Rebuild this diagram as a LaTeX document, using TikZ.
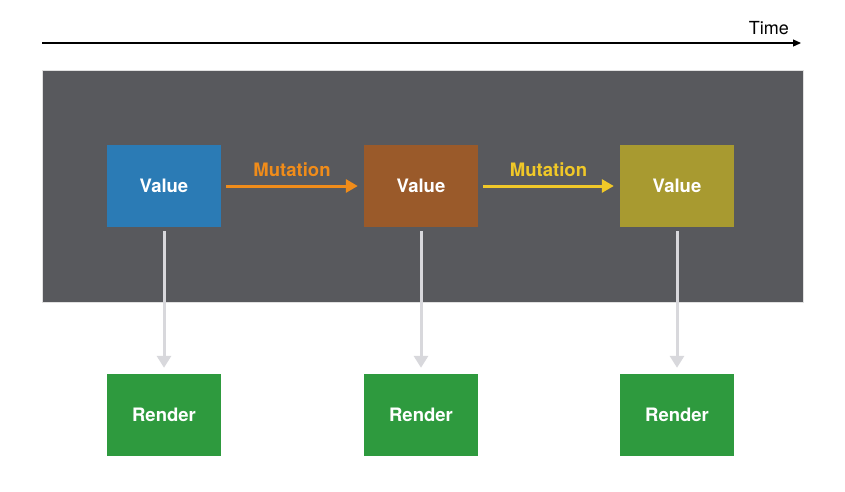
\documentclass[tikz,border=0pt]{standalone}
\usepackage{fontspec}
\setmainfont{TeX Gyre Heros}
\usetikzlibrary{arrows.meta}
\definecolor{panel}{HTML}{58595D}
\definecolor{vblue}{HTML}{2B7BB5}
\definecolor{vbrown}{HTML}{9A5A2A}
\definecolor{volive}{HTML}{A89A30}
\definecolor{rgreen}{HTML}{2E9A3E}
\definecolor{morange}{HTML}{F08C1A}
\definecolor{myellow}{HTML}{F0C828}
\definecolor{vline}{HTML}{D8D8DC}
\tikzset{
  box/.style={minimum width=114pt, minimum height=82pt, inner sep=0pt, text=white, font=\bfseries\fontsize{18.5}{22}\selectfont},
  mut/.style={line width=3pt, -{Triangle[length=12pt,width=13pt]}},
  mlabel/.style={font=\bfseries\fontsize{18.5}{22}\selectfont},
  down/.style={vline, line width=3pt, -{Triangle[length=12pt,width=14pt]}}
}
\begin{document}
\begin{tikzpicture}[x=1pt,y=-1pt]
\useasboundingbox (0,0) rectangle (845,491);
\fill[white] (0,0) rectangle (845,491);
% timeline
\coordinate (t0) at (42,43);
\coordinate (t1) at (801,43);
\draw[line width=1.2pt, -{Triangle[length=8pt,width=7pt]}] (t0) -- (t1);
\node[anchor=south east, font=\fontsize{18}{21}\selectfont, inner sep=0pt] (time) at (789,35) {Time};
% panel
\node[fill=panel, draw=black!12, minimum width=761pt, minimum height=232pt, inner sep=0pt, anchor=north west] (panel) at (42,70) {};
% value boxes
\node[box, fill=vblue] (v1) at (164,186) {Value};
\node[box, fill=vbrown] (v2) at (421,186) {Value};
\node[box, fill=volive] (v3) at (677,186) {Value};
% render boxes
\node[box, fill=rgreen] (r1) at (164,415) {Render};
\node[box, fill=rgreen] (r2) at (421,415) {Render};
\node[box, fill=rgreen] (r3) at (677,415) {Render};
% mutations
\draw[mut, morange] ([xshift=5pt]v1.east) -- node[mlabel, above=5pt] {Mutation} ([xshift=-6pt]v2.west);
\draw[mut, myellow] ([xshift=5pt]v2.east) -- node[mlabel, above=5pt] {Mutation} ([xshift=-6pt]v3.west);
% downs
\draw[down] ([yshift=-4pt]v1.south) -- ([yshift=6pt]r1.north);
\draw[down] ([yshift=-4pt]v2.south) -- ([yshift=6pt]r2.north);
\draw[down] ([yshift=-4pt]v3.south) -- ([yshift=6pt]r3.north);
\end{tikzpicture}
\end{document}
